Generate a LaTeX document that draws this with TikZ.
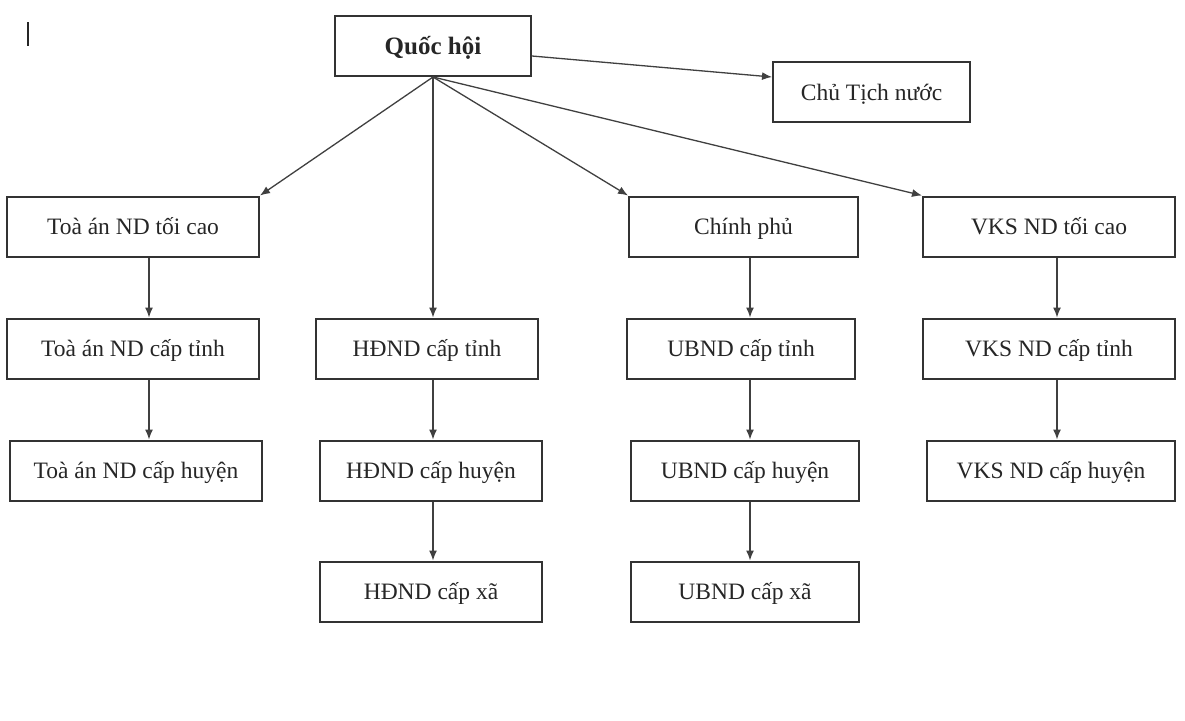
\documentclass[tikz,border=0pt]{standalone}
\usepackage{fontspec}
\setmainfont{Liberation Serif}
\usetikzlibrary{arrows.meta}
\begin{document}
\begin{tikzpicture}[x=1pt,y=-1pt,
  box/.style={draw=black!80,line width=2pt,minimum height=60pt,inner sep=0pt,
    text height=20pt,text depth=4pt,
    font=\fontsize{23.5}{26}\selectfont,text=black!85},
  arr/.style={draw=black!75,line width=1.3pt,-{Latex[length=10pt,width=8pt]}}]
\useasboundingbox (0,0) rectangle (1185,720);
\fill[white] (0,0) rectangle (1185,720);
\draw[black!85,line width=2pt] (28,22) -- (28,46);
% boxes
\node[box,minimum width=196pt,font=\fontsize{25}{28}\selectfont\bfseries] (q) at (433,46) {Quốc hội};
\node[box,minimum width=197pt] (ct) at (871.5,92) {Chủ Tịch nước};
\node[box,minimum width=252pt] (t1) at (133,226.5) {Toà án ND tối cao};
\node[box,minimum width=229pt] (cp) at (743.5,226.5) {Chính phủ};
\node[box,minimum width=252pt] (v1) at (1049,226.5) {VKS ND tối cao};
\node[box,minimum width=252pt] (t2) at (133,348.5) {Toà án ND cấp tỉnh};
\node[box,minimum width=222pt] (h2) at (427,348.5) {HĐND cấp tỉnh};
\node[box,minimum width=228pt] (u2) at (741,348.5) {UBND cấp tỉnh};
\node[box,minimum width=252pt] (v2) at (1049,348.5) {VKS ND cấp tỉnh};
\node[box,minimum width=252pt] (t3) at (136,470.5) {Toà án ND cấp huyện};
\node[box,minimum width=222pt] (h3) at (431,470.5) {HĐND cấp huyện};
\node[box,minimum width=228pt] (u3) at (745,470.5) {UBND cấp huyện};
\node[box,minimum width=248pt] (v3) at (1051,470.5) {VKS ND cấp huyện};
\node[box,minimum width=222pt] (h4) at (431,591.5) {HĐND cấp xã};
\node[box,minimum width=228pt] (u4) at (745,591.5) {UBND cấp xã};
% column coordinates
\coordinate (cA) at (149,0);
\coordinate (cB) at (433,0);
\coordinate (cC) at (750,0);
\coordinate (cD) at (1057,0);
% arrows from Quoc hoi
\draw[arr] ([yshift=-10pt]q.east) -- ([yshift=15pt]ct.west);
\draw[arr] (q.south) -- (t1.north east);
\draw[arr] (q.south) -- (h2.north -| q.south);
\draw[arr] (q.south) -- (cp.north west);
\draw[arr] (q.south) -- (v1.north west);
% vertical chains
\draw[arr] (t1.south -| cA) -- (t2.north -| cA);
\draw[arr] (t2.south -| cA) -- (t3.north -| cA);
\draw[arr] (h2.south -| cB) -- (h3.north -| cB);
\draw[arr] (h3.south -| cB) -- (h4.north -| cB);
\draw[arr] (cp.south -| cC) -- (u2.north -| cC);
\draw[arr] (u2.south -| cC) -- (u3.north -| cC);
\draw[arr] (u3.south -| cC) -- (u4.north -| cC);
\draw[arr] (v1.south -| cD) -- (v2.north -| cD);
\draw[arr] (v2.south -| cD) -- (v3.north -| cD);
\end{tikzpicture}
\end{document}
